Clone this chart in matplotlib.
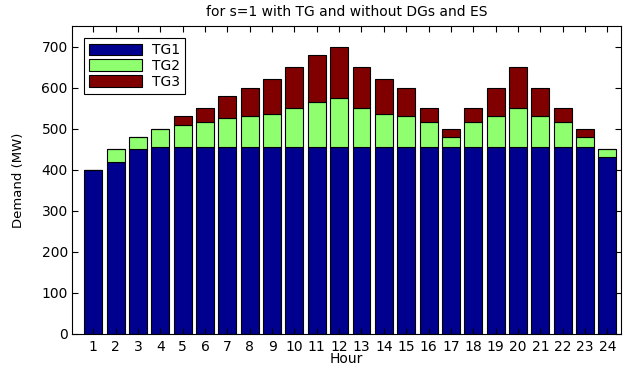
import matplotlib
matplotlib.use("Agg")
import matplotlib.pyplot as plt
import numpy as np

plt.rcParams['font.family'] = ['DejaVu Sans']

hours = list(range(1, 25))
tg1 = [400, 420, 450, 455, 455, 455, 455, 455, 455, 455, 455, 455,
       455, 455, 455, 455, 455, 455, 455, 455, 455, 455, 455, 430]
tg2 = [0, 30, 30, 45, 55, 60, 70, 75, 80, 95, 110, 120,
       95, 80, 75, 60, 25, 60, 75, 95, 75, 60, 25, 20]
tg3 = [0, 0, 0, 0, 20, 35, 55, 70, 85, 100, 115, 125,
       100, 85, 70, 35, 20, 35, 70, 100, 70, 35, 20, 0]
labels = ["TG1", "TG2", "TG3"]
colors = ["#00008f", "#8fff70", "#800000"]

fig = plt.figure(figsize=(6.28, 3.68), dpi=100)
ax = fig.add_axes([0.1146, 0.0924, 0.874, 0.837])

bottom = np.zeros(len(hours))
for vals, lab, c in zip([tg1, tg2, tg3], labels, colors):
    ax.bar(hours, vals, width=0.8, bottom=bottom, color=c,
           edgecolor="black", linewidth=0.8, label=lab)
    bottom = bottom + np.array(vals)

ax.set_xlim(0.05, 24.6)
ax.set_ylim(0, 750)
ax.set_xticks(hours)
ax.set_yticks(range(0, 701, 100))
ax.tick_params(direction="in", top=True, right=True, labelsize=10, length=4, pad=4)
ax.tick_params(axis="y", pad=3)
ax.set_xlabel("Hour", fontsize=10, labelpad=-1)
ax.set_ylabel("Demand (MW)", fontsize=9.5, labelpad=12)
ax.set_title("for s=1 with TG and without DGs and ES", fontsize=10, pad=7)

leg = ax.legend(loc="upper left", fontsize=10, fancybox=False, framealpha=1,
                edgecolor="black", handlelength=3.8, handleheight=0.9,
                handletextpad=0.7, borderpad=0.35, borderaxespad=0.9,
                labelspacing=0.12)
leg.get_frame().set_linewidth(0.8)

fig.savefig("out.png", dpi=100)
